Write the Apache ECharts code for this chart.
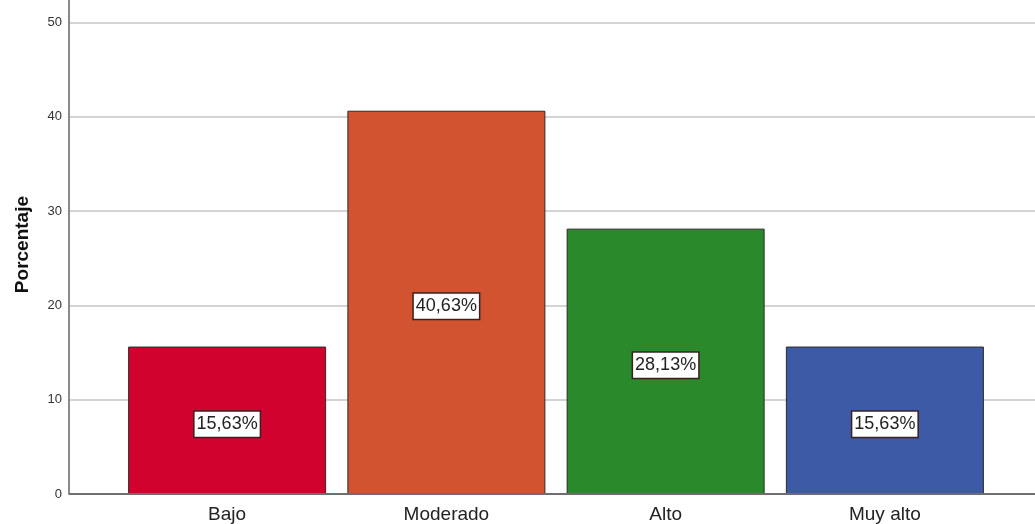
<!DOCTYPE html>
<html>
<head>
<meta charset="utf-8">
<script src="https://cdn.jsdelivr.net/npm/echarts@6/dist/echarts.min.js"></script>
<style>html,body{margin:0;padding:0;background:#fff}#c{width:1035px;height:524px}</style>
</head>
<body>
<div id="c"></div>
<script>
const categories = ['Bajo', 'Moderado', 'Alto', 'Muy alto'];
const values = [15.63, 40.63, 28.13, 15.63];
const labels = ['15,63%', '40,63%', '28,13%', '15,63%'];
const colors = ['#d2022f', '#d1532f', '#2a892a', '#3c5aa6'];
const yTicks = [0, 10, 20, 30, 40, 50, 60];
const yAxisTitle = 'Porcentaje';

const chart = echarts.init(document.getElementById('c'));
const font = 'Liberation Sans, Arial, sans-serif';
chart.setOption({
  animation: false,
  grid: [
    {left: 69, right: 0, top: -72, bottom: 30, outerBoundsMode: 'none', containLabel: false},
    {left: 117.5, right: 40.5, top: -72, bottom: 30, outerBoundsMode: 'none', containLabel: false}
  ],
  xAxis: [
    {gridIndex: 0, type: 'value', min: 0, max: 1, show: true,
     axisLine: {show: false}, axisTick: {show: false}, axisLabel: {show: false}, splitLine: {show: false}},
    {gridIndex: 1, type: 'category', data: categories,
     axisLine: {show: false}, axisTick: {show: false},
     axisLabel: {color: '#222', fontFamily: font, fontSize: 19, margin: 11}}
  ],
  yAxis: [
    {gridIndex: 0, type: 'value', min: yTicks[0], max: yTicks[yTicks.length - 1], interval: 10,
     axisLine: {show: true, onZero: false, lineStyle: {color: '#8a8a8a', width: 2}},
     axisTick: {show: false},
     axisLabel: {color: '#333', fontFamily: font, fontSize: 13, margin: 7},
     splitLine: {show: true, lineStyle: {color: '#d4d4d4', width: 2}}},
    {gridIndex: 1, type: 'value', min: yTicks[0], max: yTicks[yTicks.length - 1], interval: 10,
     show: false, splitLine: {show: false}}
  ],
  graphic: [
    {type: 'text', left: 13, top: 196, rotation: Math.PI / 2,
     style: {text: yAxisTitle, font: 'bold 19px ' + font, fill: '#111'}}
  ],
  series: [
    {type: 'line', xAxisIndex: 0, yAxisIndex: 0, data: [[0, 0], [1, 0]],
     symbol: 'none', lineStyle: {color: '#6e6e6e', width: 2}, z: 5, silent: true},
    {type: 'bar', xAxisIndex: 1, yAxisIndex: 1, barWidth: 198,
     data: values.map((v, i) => ({value: v, itemStyle: {color: colors[i]}})),
     itemStyle: {borderColor: '#2a2a2a', borderWidth: 1},
     label: {show: true, position: 'inside', offset: [0, 4],
       formatter: p => labels[p.dataIndex],
       fontFamily: font, fontSize: 18, color: '#222',
       backgroundColor: '#fff', borderColor: '#3a2020', borderWidth: 1.5,
       padding: [4, 2, 3, 2]}}
  ]
});
</script>
</body>
</html>
